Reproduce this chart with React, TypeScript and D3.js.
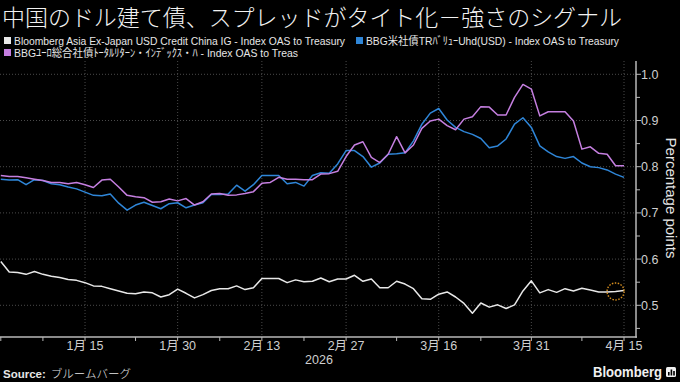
import React from "react";
import * as d3 from "d3";

const TITLE = "中国のドル建て債、スプレッドがタイト化－強さのシグナル";
const SERIES_NAMES = [
  "Bloomberg Asia Ex-Japan USD Credit China IG - Index OAS to Treasury",
  "BBG米社債TRﾊﾞﾘｭｰUhd(USD) - Index OAS to Treasury",
  "BBGﾕｰﾛ総合社債ﾄｰﾀﾙﾘﾀｰﾝ・ｲﾝﾃﾞｯｸｽ・ﾊ - Index OAS to Treas",
];
const SERIES_COLORS = ["#e8e8e8", "#2f86d8", "#c57fe0"];

const START_DATE = "2026-01-01";
const END_DATE = "2026-04-15";

const chinaIG = [
  0.595, 0.572, 0.571, 0.567, 0.573, 0.567, 0.563, 0.56, 0.556, 0.554,
  0.549, 0.542, 0.541, 0.536, 0.531, 0.526, 0.525, 0.529, 0.527, 0.518,
  0.523, 0.535, 0.526, 0.516, 0.523, 0.532, 0.536, 0.536, 0.542, 0.534,
  0.538, 0.558, 0.558, 0.558, 0.549, 0.555, 0.551, 0.552, 0.559, 0.551,
  0.557, 0.557, 0.565, 0.552, 0.557, 0.538, 0.538, 0.552, 0.546, 0.536,
  0.514, 0.513, 0.524, 0.529, 0.518, 0.504, 0.483, 0.505, 0.496, 0.501,
  0.493, 0.501, 0.531, 0.553, 0.527, 0.534, 0.528, 0.536, 0.531, 0.537,
  0.533, 0.529, 0.529, 0.53, 0.532,
];
const usCorp = [
  0.773, 0.771, 0.772, 0.761, 0.772, 0.77, 0.763, 0.761, 0.756, 0.752,
  0.745, 0.738, 0.737, 0.741, 0.721, 0.706, 0.717, 0.723, 0.716, 0.709,
  0.72, 0.722, 0.711, 0.717, 0.722, 0.74, 0.74, 0.741, 0.76, 0.747,
  0.761, 0.781, 0.781, 0.781, 0.763, 0.766, 0.758, 0.781, 0.787, 0.786,
  0.806, 0.835, 0.835, 0.822, 0.799, 0.808, 0.827, 0.828, 0.83, 0.856,
  0.892, 0.916, 0.926, 0.901, 0.885, 0.876, 0.87, 0.861, 0.841, 0.845,
  0.86, 0.892, 0.906, 0.885, 0.845, 0.832, 0.822, 0.818, 0.822, 0.808,
  0.8, 0.798, 0.793, 0.784, 0.777,
];
const euroCorp = [
  0.781, 0.779, 0.779, 0.776, 0.773, 0.77, 0.766, 0.766, 0.763, 0.766,
  0.761, 0.755, 0.771, 0.773, 0.756, 0.738, 0.735, 0.733, 0.723, 0.724,
  0.73, 0.726, 0.731, 0.717, 0.724, 0.741, 0.742, 0.738, 0.739, 0.742,
  0.746, 0.764, 0.766, 0.777, 0.773, 0.773, 0.772, 0.772, 0.784, 0.785,
  0.79, 0.822, 0.847, 0.854, 0.82, 0.809, 0.827, 0.865, 0.83, 0.847,
  0.883, 0.899, 0.903, 0.889, 0.88, 0.903, 0.908, 0.93, 0.929, 0.912,
  0.912, 0.95, 0.978, 0.968, 0.91, 0.919, 0.919, 0.919, 0.899, 0.838,
  0.843, 0.829, 0.827, 0.802, 0.802,
];

const majorTickDates = ["2026-01-15", "2026-01-30", "2026-02-13", "2026-02-27", "2026-03-16", "2026-03-31", "2026-04-15"];
const majorTickLabels = ["1月 15", "1月 30", "2月 13", "2月 27", "3月 16", "3月 31", "4月 15"];
const minorTickDates = ["2026-01-01", "2026-01-08", "2026-01-23", "2026-02-06", "2026-02-20", "2026-03-09", "2026-03-23", "2026-04-08"];
const yearLabel = "2026";
const yMajorTicks = [0.5, 0.6, 0.7, 0.8, 0.9, 1.0];
const yMinorTicks = [0.45, 0.55, 0.65, 0.75, 0.85, 0.95];
const Y_TITLE = "Percentage points";
const SOURCE_LABEL = "Source:";
const SOURCE_TEXT = "ブルームバーグ";
const HIGHLIGHT_INDEX = 73;

const W = 680;
const H = 382;
const PLOT_TOP = 61;
const PLOT_BOTTOM = 337;
const AXIS_X = 636;

const parse = d3.timeParse("%Y-%m-%d");
const businessDays: string[] = d3.timeDay
  .range(parse(START_DATE) as Date, d3.timeDay.offset(parse(END_DATE) as Date, 1))
  .filter((d) => d.getDay() !== 0 && d.getDay() !== 6)
  .map((d) => d3.timeFormat("%Y-%m-%d")(d));

export default function App() {
  const x = d3.scaleLinear().domain([0, businessDays.length - 1]).range([0.8, 624]);
  const y = d3.scaleLinear().domain([0.5, 1.0]).range([305.3, 74.3]);
  const line = d3
    .line<number>()
    .x((_, i) => x(i))
    .y((v) => y(v));
  const series = [chinaIG, usCorp, euroCorp];
  const idx = (s: string) => businessDays.indexOf(s);
  const grid = "#4a4a4a";
  const axisCol = "#b8b8b8";
  const sans = "'Liberation Sans', 'Noto Sans CJK JP', sans-serif";
  const cjk = "'Noto Sans CJK JP', 'Liberation Sans', sans-serif";

  return (
    <svg width={W} height={H} style={{ position: "absolute", left: 0, top: 0, background: "#000" }}>
      <rect x={0} y={0} width={W} height={H} fill="#000" />
      <text x={2} y={26} fill="#f2f2f2" fontSize={22.5} fontFamily={cjk} fontWeight={300} textLength={620} lengthAdjust="spacingAndGlyphs">
        {TITLE}
      </text>
      {/* legend */}
      <rect x={4} y={37} width={7} height={7} fill={SERIES_COLORS[0]} />
      <text x={14} y={44.5} fill="#e6e6e6" fontSize={11} fontFamily={sans} textLength={331} lengthAdjust="spacingAndGlyphs">
        {SERIES_NAMES[0]}
      </text>
      <rect x={356} y={37} width={7} height={7} fill={SERIES_COLORS[1]} />
      <text x={366} y={44.5} fill="#e6e6e6" fontSize={11} fontFamily={sans} textLength={253} lengthAdjust="spacingAndGlyphs">
        {SERIES_NAMES[1]}
      </text>
      <rect x={4} y={49} width={7} height={7} fill={SERIES_COLORS[2]} />
      <text x={14} y={56.5} fill="#e6e6e6" fontSize={11} fontFamily={sans} textLength={284} lengthAdjust="spacingAndGlyphs">
        {SERIES_NAMES[2]}
      </text>

      {/* grid */}
      {yMajorTicks.map((t) => (
        <line key={"gy" + t} x1={0} x2={AXIS_X} y1={y(t)} y2={y(t)} stroke={grid} strokeWidth={1} strokeDasharray="1,2" />
      ))}
      {majorTickDates.map((d) => (
        <line key={"gx" + d} x1={x(idx(d))} x2={x(idx(d))} y1={PLOT_TOP} y2={PLOT_BOTTOM} stroke={grid} strokeWidth={1} strokeDasharray="1,2" />
      ))}

      {/* series */}
      {series.map((s, k) => (
        <path key={k} d={line(s) || ""} fill="none" stroke={SERIES_COLORS[k]} strokeWidth={1.5} strokeLinejoin="round" />
      ))}
      <circle
        cx={x(HIGHLIGHT_INDEX)}
        cy={y(chinaIG[HIGHLIGHT_INDEX])}
        r={8.5}
        fill="none"
        stroke="#d9901f"
        strokeWidth={1.4}
        strokeDasharray="1.5,1.5"
      />

      {/* x axis */}
      <line x1={0} x2={AXIS_X + 1} y1={PLOT_BOTTOM} y2={PLOT_BOTTOM} stroke={axisCol} strokeWidth={1.5} />
      {majorTickDates.map((d, i) => (
        <g key={"mx" + d}>
          <line x1={x(idx(d))} x2={x(idx(d))} y1={PLOT_BOTTOM} y2={PLOT_BOTTOM + 4} stroke={axisCol} strokeWidth={1} />
          <text x={x(idx(d))} y={350} fill="#cfcfcf" fontSize={12.5} fontFamily={sans} textAnchor="middle">
            {majorTickLabels[i]}
          </text>
        </g>
      ))}
      {minorTickDates.map((d) => (
        <line key={"nx" + d} x1={x(idx(d))} x2={x(idx(d))} y1={PLOT_BOTTOM} y2={PLOT_BOTTOM + 4} stroke={axisCol} strokeWidth={1} />
      ))}
      <text x={319} y={363.5} fill="#cfcfcf" fontSize={12.5} fontFamily={sans} textAnchor="middle">
        {yearLabel}
      </text>

      {/* y axis */}
      <line x1={AXIS_X} x2={AXIS_X} y1={PLOT_TOP} y2={PLOT_BOTTOM + 0.75} stroke={axisCol} strokeWidth={1.5} />
      {yMajorTicks.map((t) => (
        <g key={"ty" + t}>
          <line x1={AXIS_X} x2={AXIS_X + 5} y1={y(t)} y2={y(t)} stroke={axisCol} strokeWidth={1} />
          <text x={641} y={y(t) + 4.5} fill="#cfcfcf" fontSize={12.5} fontFamily={sans}>
            {d3.format(".1f")(t)}
          </text>
        </g>
      ))}
      {yMinorTicks.map((t) => (
        <line key={"my" + t} x1={AXIS_X} x2={AXIS_X + 4} y1={y(t)} y2={y(t)} stroke={axisCol} strokeWidth={1} />
      ))}
      <text
        transform={`translate(671,198) rotate(90)`}
        fill="#e6e6e6"
        fontSize={15}
        fontFamily={sans}
        textAnchor="middle"
        dominantBaseline="central"
      >
        {Y_TITLE}
      </text>

      {/* footer */}
      <text x={3} y={378} fill="#e6e6e6" fontSize={11.5} fontFamily={sans}>
        <tspan fontWeight="bold">{SOURCE_LABEL}</tspan>
        <tspan dx={5} fontFamily={cjk} fontWeight={300}>{SOURCE_TEXT}</tspan>
      </text>
      <text x={593} y={377} fill="#f0f0f0" fontSize={14.5} fontFamily={sans} fontWeight="bold" textLength={69} lengthAdjust="spacingAndGlyphs">
        Bloomberg
      </text>
      <rect x={666} y={367} width={10} height={10} rx={1.5} fill="#f0f0f0" />
      <rect x={668} y={372} width={1.6} height={3.5} fill="#000" />
      <rect x={670.6} y={369.5} width={1.6} height={6} fill="#000" />
      <rect x={673.2} y={371} width={1.6} height={4.5} fill="#000" />
    </svg>
  );
}
